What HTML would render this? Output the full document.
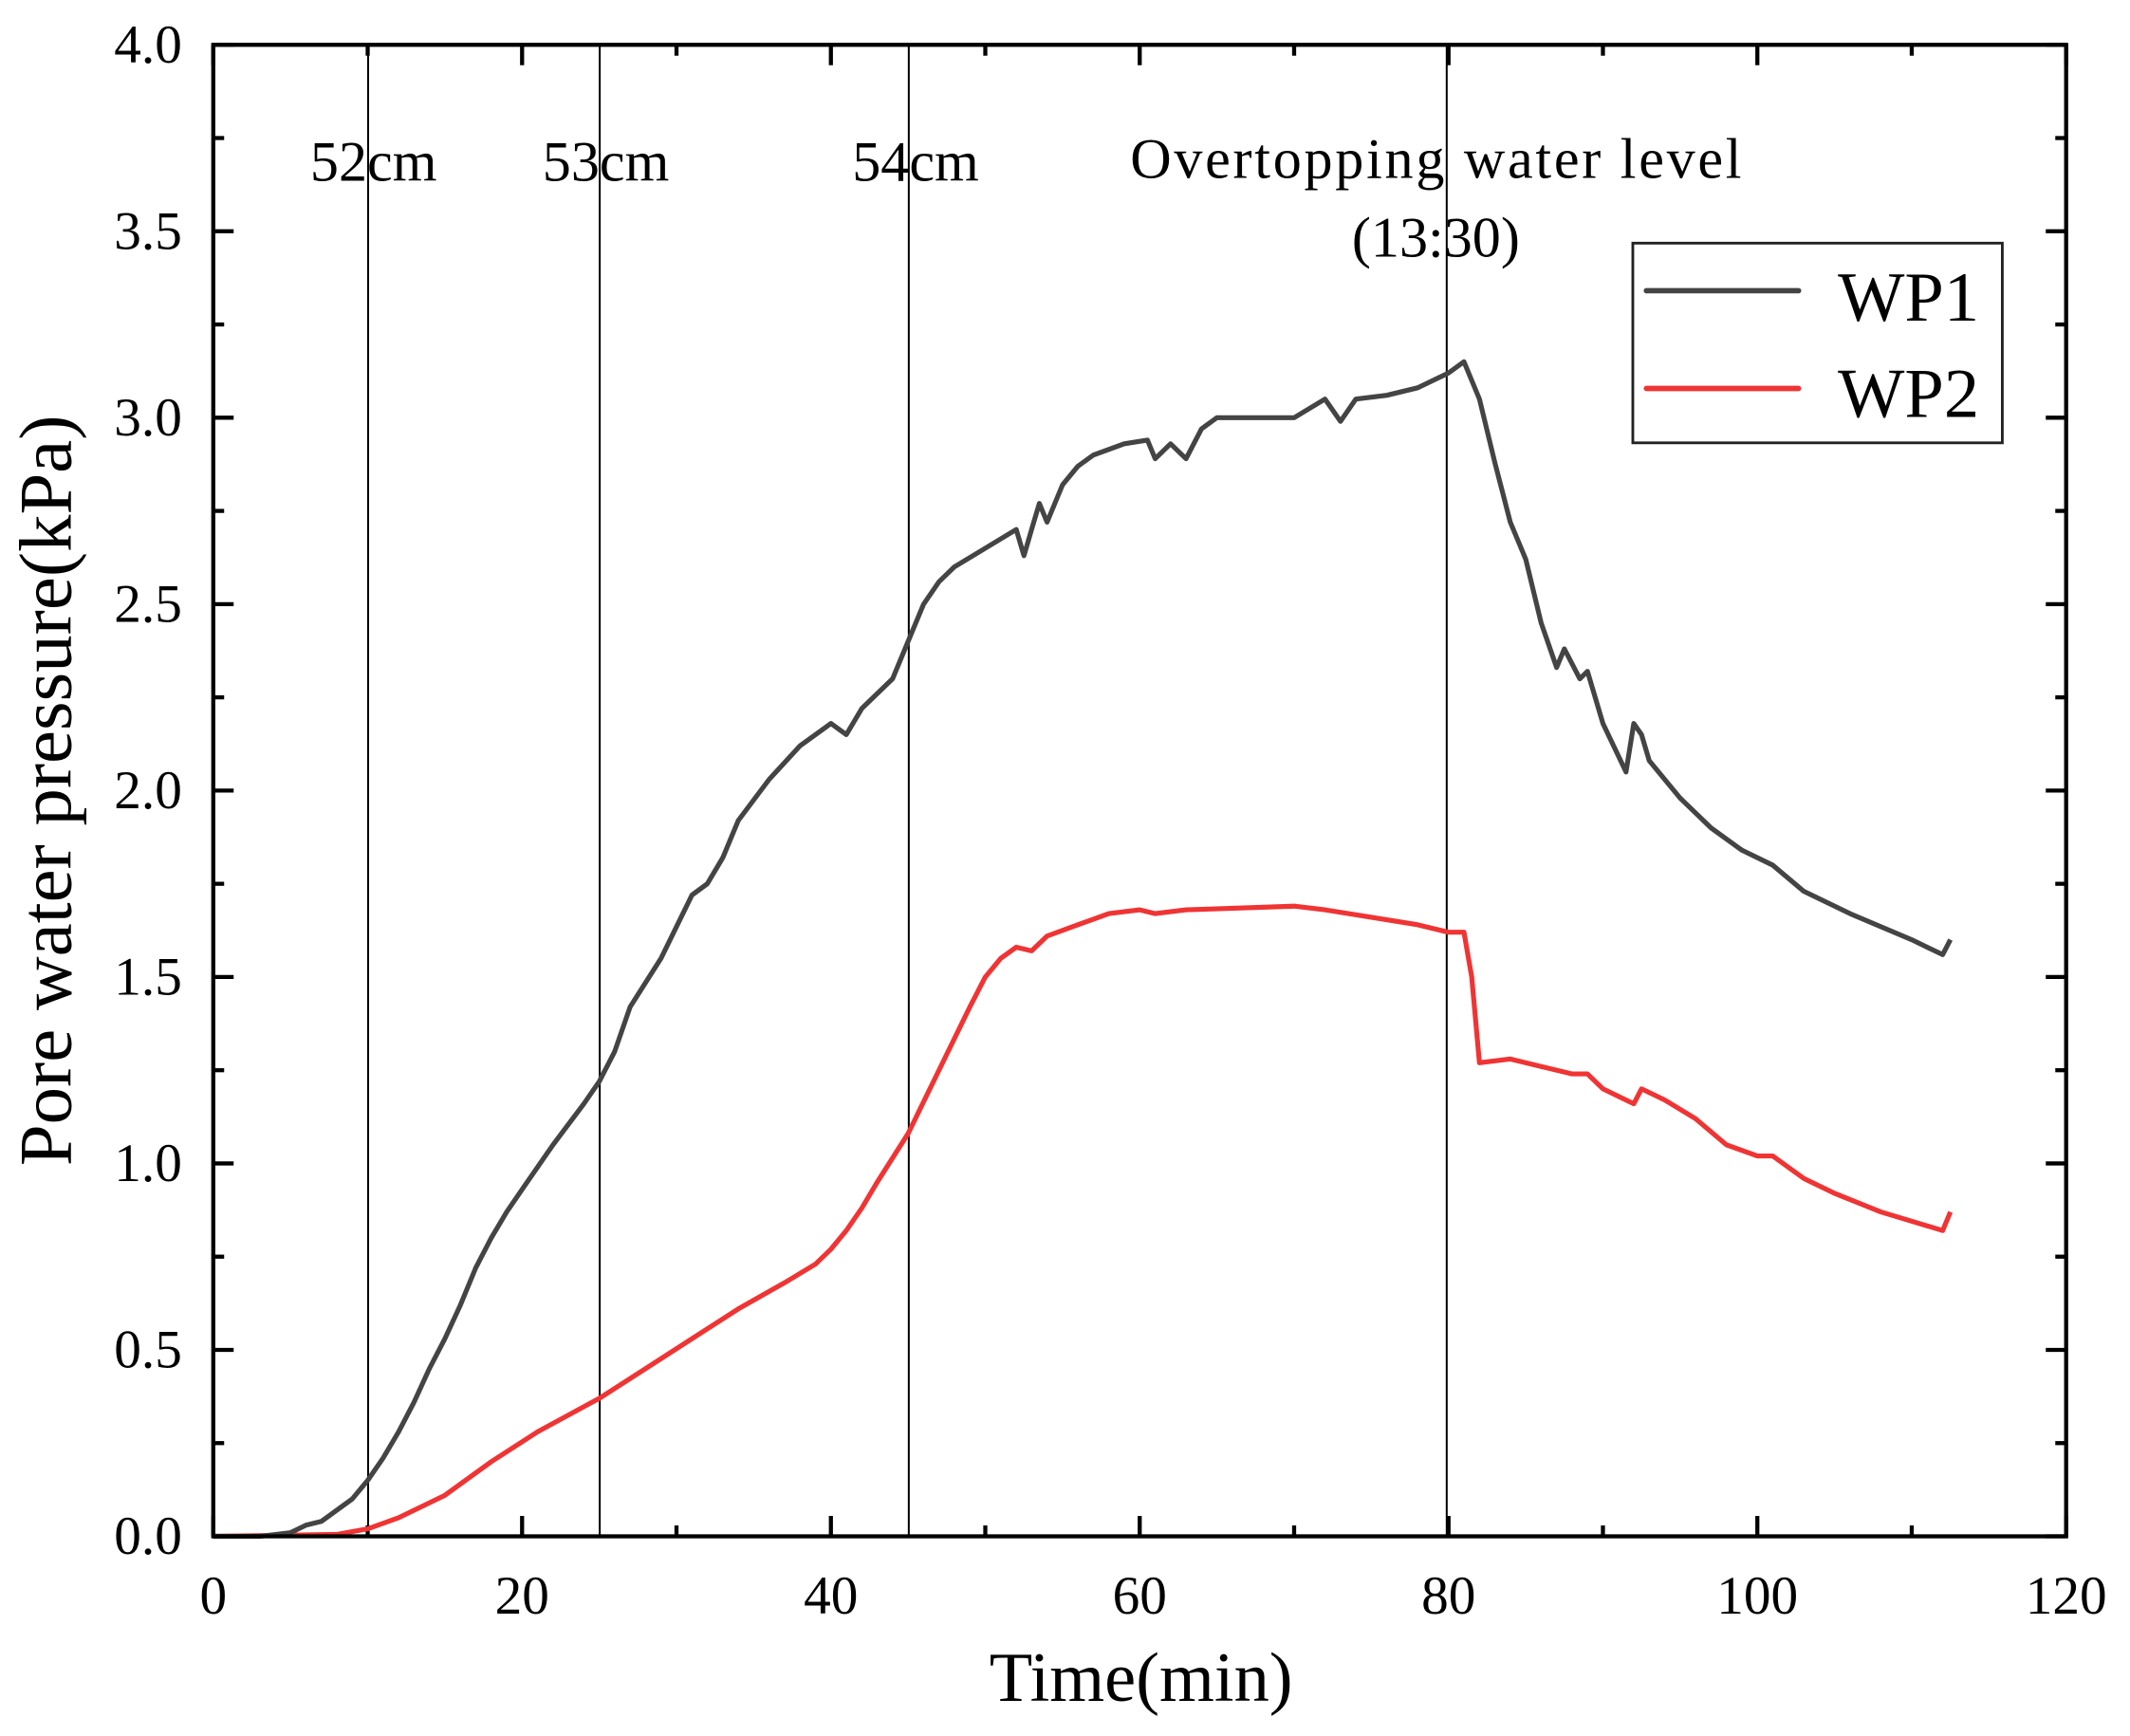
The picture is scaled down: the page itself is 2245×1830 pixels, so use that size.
<!DOCTYPE html>
<html><head><meta charset="utf-8"><style>
html,body{margin:0;padding:0;background:#fff;}
svg{display:block;}
text{font-family:"Liberation Serif",serif;fill:#000;}
</style></head><body>
<svg id="s" width="2245" height="1830" viewBox="0 0 1568 1278" preserveAspectRatio="none" xmlns="http://www.w3.org/2000/svg">
<g id="ticks" stroke="#000" stroke-width="3"></g>
<g stroke="#000" stroke-width="1.4">
<line x1="271" y1="33" x2="271" y2="1131"/>
<line x1="441.5" y1="33" x2="441.5" y2="1131"/>
<line x1="669" y1="33" x2="669" y2="1131"/>
<line x1="1065" y1="33" x2="1065" y2="1131"/>
</g>
<path id="wp2" fill="none" stroke="#f03434" stroke-width="3.6" stroke-linejoin="round"/>
<path id="wp1" fill="none" stroke="#444" stroke-width="3.6" stroke-linejoin="round"/>
<rect x="157" y="33" width="1364" height="1098" fill="none" stroke="#000" stroke-width="3"/>
<g font-size="40" text-anchor="end" id="ylab"></g>
<g font-size="40" text-anchor="middle" id="xlab"></g>
<g font-size="42" text-anchor="middle">
<text x="275" y="133">52cm</text>
<text x="446" y="133">53cm</text>
<text x="674" y="133">54cm</text>
<text x="1057" y="131" textLength="450" lengthAdjust="spacing">Overtopping water level</text>
<text x="1057" y="189">(13:30)</text>
</g>
<text x="840" y="1252" font-size="52" text-anchor="middle">Time(min)</text>
<text transform="translate(52,582) rotate(-90)" font-size="55" text-anchor="middle">Pore water pressure(kPa)</text>
<rect x="1202" y="179" width="272" height="147" fill="#fff" stroke="#222" stroke-width="2"/>
<line x1="1212" y1="214" x2="1324" y2="214" stroke="#444" stroke-width="4" stroke-linecap="round"/>
<line x1="1212" y1="286" x2="1324" y2="286" stroke="#f03434" stroke-width="4" stroke-linecap="round"/>
<text x="1353" y="236" font-size="52">WP1</text>
<text x="1353" y="307" font-size="52">WP2</text>
</svg>
<script>
var X=function(t){return 157+t*1364/120;},Y=function(v){return 1131-v*1098/4;};
var tk=document.getElementById('ticks'),h='';
for(var i=0;i<=12;i++){var x=X(i*10),L=(i%2==0)?15:8;
h+='<line x1="'+x+'" y1="1131" x2="'+x+'" y2="'+(1131-L)+'"/><line x1="'+x+'" y1="33" x2="'+x+'" y2="'+(33+L)+'"/>';}
for(var i=0;i<=16;i++){var y=Y(i*0.25),L=(i%2==0)?15:8;
h+='<line x1="157" y1="'+y+'" x2="'+(157+L)+'" y2="'+y+'"/><line x1="1521" y1="'+y+'" x2="'+(1521-L)+'" y2="'+y+'"/>';}
tk.innerHTML=h;
var yl='';for(var i=0;i<=8;i++){yl+='<text x="134" y="'+(Y(i*0.5)+13)+'">'+(i*0.5).toFixed(1)+'</text>';}
document.getElementById('ylab').innerHTML=yl;
var xl='';for(var i=0;i<=6;i++){xl+='<text x="'+X(i*20)+'" y="1188">'+(i*20)+'</text>';}
document.getElementById('xlab').innerHTML=xl;
var w1=[[0,0],[3,0],[5,0.01],[6,0.03],[7,0.04],[8,0.07],[9,0.1],[10,0.15],[11,0.21],[12,0.28],[13,0.36],[14,0.45],[15,0.53],[16,0.62],[17,0.72],[18,0.8],[19,0.87],[20,0.93],[22,1.05],[24,1.16],[25,1.22],[26,1.3],[27,1.42],[29,1.55],[31,1.72],[32,1.75],[33,1.82],[34,1.92],[36,2.03],[38,2.12],[40,2.18],[41,2.15],[42,2.22],[44,2.3],[45,2.4],[46,2.5],[47,2.56],[48,2.6],[50,2.65],[52,2.7],[52.5,2.63],[53,2.7],[53.5,2.77],[54,2.72],[55,2.82],[56,2.87],[57,2.9],[59,2.93],[60.5,2.94],[61,2.89],[62,2.93],[63,2.89],[64,2.97],[65,3.0],[70,3.0],[72,3.05],[73,2.99],[74,3.05],[76,3.06],[78,3.08],[80,3.12],[81,3.15],[82,3.05],[83,2.88],[84,2.72],[85,2.62],[86,2.45],[87,2.33],[87.5,2.38],[88.5,2.3],[89,2.32],[90,2.18],[91.5,2.05],[92,2.18],[92.5,2.15],[93,2.08],[95,1.98],[97,1.9],[99,1.84],[101,1.8],[103,1.73],[106,1.67],[110,1.6],[112,1.56],[112.5,1.6]];
var w2=[[0,0],[8,0.005],[10,0.02],[12,0.05],[15,0.11],[18,0.2],[21,0.28],[25,0.37],[28,0.45],[31,0.53],[34,0.61],[37,0.68],[39,0.73],[40,0.77],[41,0.82],[42,0.88],[43,0.95],[45,1.08],[47,1.25],[49,1.42],[50,1.5],[51,1.55],[52,1.58],[53,1.57],[54,1.61],[56,1.64],[58,1.67],[60,1.68],[61,1.67],[63,1.68],[70,1.69],[72,1.68],[75,1.66],[78,1.64],[80,1.62],[81,1.62],[81.5,1.5],[82,1.27],[84,1.28],[86,1.26],[88,1.24],[89,1.24],[90,1.2],[92,1.16],[92.5,1.2],[94,1.17],[96,1.12],[98,1.05],[100,1.02],[101,1.02],[103,0.96],[105,0.92],[108,0.87],[112,0.82],[112.5,0.87]];
function p(a){return a.map(function(q,i){return (i?'L':'M')+X(q[0]).toFixed(1)+' '+Y(q[1]).toFixed(1);}).join(' ');}
document.getElementById('wp1').setAttribute('d',p(w1));
document.getElementById('wp2').setAttribute('d',p(w2));
</script>
</body></html>
